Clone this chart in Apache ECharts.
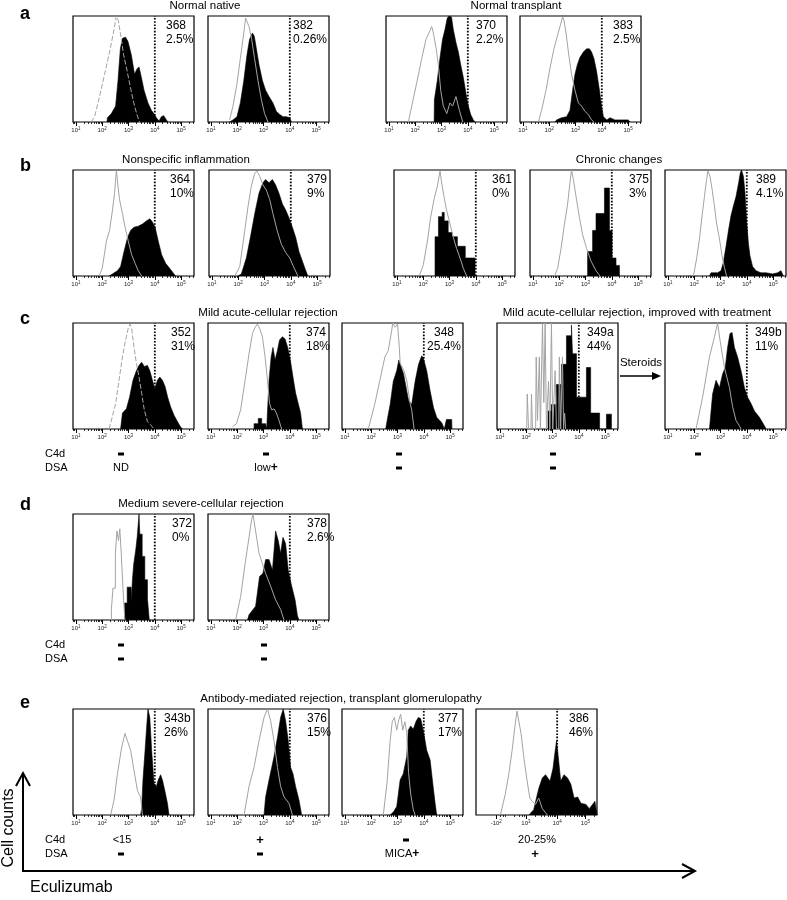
<!DOCTYPE html>
<html>
<head>
<meta charset="utf-8">
<script src="https://cdn.jsdelivr.net/npm/echarts@6/dist/echarts.min.js"></script>
<style>html,body{margin:0;padding:0;background:#fff}#chart{width:787px;height:900px}</style>
</head>
<body>
<div id="chart"></div>
<script>
// ---------------- DATA (x = log10 intensity / display units, y = % of max) ----------------
const sampleIds = ['368','382','370','383','364','379','361','375','389','352','374','348','349a','349b','372','378','343b','376','377','386'];
const positivePct = ['2.5%','0.26%','2.2%','2.5%','10%','9%','0%','3%','4.1%','31%','18%','25.4%','44%','11%','0%','2.6%','26%','15%','17%','46%'];
const gateValues = [4,4,4,4,4,4,4,4,4,4,4,4,4,4,4,4,4,4,4,4.05];
const axisKind = ['std','std','std','std','std','std','std','std','std','std','std','std','std','std','std','std','std','std','std','bi'];

const stdTickValues = [1,2,3,4,5];
const stdTickBase = ['10','10','10','10','10'];
const stdTickExp = ['1','2','3','4','5'];
const biTickValues = [2,3,4.05,5];
const biTickBase = ['-10','10','10','10'];
const biTickExp = ['2','3','4','5'];

const grayA1 = [[1.58,0],[1.71,5],[1.9,24],[2.09,45],[2.28,66],[2.44,86],[2.54,100],[2.61,96],[2.71,81],[2.81,64],[2.94,49],[3.07,33],[3.2,18],[3.32,7],[3.42,0]];
const blackA1 = [[2.18,0],[2.2,4],[2.35,8],[2.51,15],[2.6,39],[2.69,69],[2.77,79],[2.89,80],[2.98,76],[3.11,63],[3.23,45],[3.32,50],[3.4,52],[3.49,42],[3.59,30],[3.74,18],[3.87,11],[3.99,7],[4.06,4],[4.16,1],[4.25,5],[4.34,6],[4.44,2],[4.5,0]];
const grayA2 = [[1.71,2],[1.84,15],[1.99,36],[2.12,60],[2.25,84],[2.32,98],[2.37,97],[2.45,90],[2.55,78],[2.66,60],[2.79,39],[2.92,21],[3.04,8],[3.17,0]];
const blackA2 = [[1.71,0],[1.84,2],[1.99,5],[2.12,18],[2.25,39],[2.37,63],[2.47,78],[2.58,84],[2.65,81],[2.73,69],[2.83,54],[2.96,39],[3.08,30],[3.21,24],[3.36,18],[3.49,10],[3.62,7],[3.74,5],[3.87,5],[4.0,4],[4.06,0]];
const grayA3 = [[1.74,0],[1.87,15],[2.05,36],[2.25,60],[2.41,78],[2.54,85],[2.63,90],[2.69,84],[2.8,69],[2.88,54],[2.97,30],[3.07,15],[3.2,8],[3.32,18],[3.42,15],[3.55,24],[3.68,11],[3.81,0]];
const blackA3 = [[2.72,0],[2.73,21],[2.84,39],[2.94,60],[3.04,78],[3.13,87],[3.22,98],[3.29,100],[3.38,99],[3.45,87],[3.55,75],[3.64,66],[3.73,54],[3.83,42],[3.93,27],[4.02,15],[4.11,7],[4.21,2],[4.28,0]];
const grayA4 = [[1.59,0],[1.71,11],[1.88,30],[2.03,51],[2.18,69],[2.31,81],[2.41,90],[2.51,99],[2.56,96],[2.64,84],[2.73,66],[2.85,45],[2.98,30],[3.11,18],[3.23,15],[3.36,10],[3.49,7],[3.61,2],[3.7,0]];
const blackA4 = [[2.22,0],[2.28,2],[2.47,4],[2.66,5],[2.79,11],[2.89,30],[2.98,45],[3.07,54],[3.17,61],[3.3,66],[3.42,69],[3.53,69],[3.61,66],[3.7,60],[3.8,48],[3.91,30],[3.99,15],[4.06,5],[4.19,2],[4.31,4],[4.5,2],[4.76,2],[5.01,2],[5.07,0]];

const grayB1 = [[1.88,0],[2.0,7],[2.16,33],[2.28,43],[2.39,62],[2.47,78],[2.54,100],[2.6,85],[2.66,72],[2.77,59],[2.87,46],[2.99,33],[3.12,20],[3.25,12],[3.37,5],[3.5,0]];
const blackB1 = [[2.26,0],[2.39,2],[2.58,5],[2.7,9],[2.83,23],[2.96,36],[3.08,43],[3.21,46],[3.37,47],[3.53,49],[3.68,52],[3.81,54],[3.91,51],[4.01,46],[4.13,33],[4.26,20],[4.41,12],[4.57,7],[4.73,2],[4.79,0]];
const grayB2 = [[1.87,0],[2.06,9],[2.25,43],[2.37,65],[2.5,85],[2.63,97],[2.71,99],[2.82,94],[2.94,86],[3.07,81],[3.2,72],[3.32,59],[3.48,43],[3.64,30],[3.81,22],[3.96,17],[4.08,10],[4.27,0]];
const blackB2 = [[1.99,0],[2.12,2],[2.31,17],[2.46,36],[2.63,59],[2.79,78],[2.94,88],[3.04,91],[3.17,88],[3.3,91],[3.42,86],[3.55,78],[3.68,68],[3.81,62],[3.93,55],[4.06,46],[4.19,36],[4.31,23],[4.44,14],[4.57,5],[4.65,0]];
const grayB3 = [[1.85,0],[2.0,10],[2.16,33],[2.28,55],[2.41,72],[2.54,85],[2.64,99],[2.7,88],[2.79,75],[2.89,62],[3.02,49],[3.15,36],[3.27,26],[3.4,17],[3.53,7],[3.65,0]];
const blackB3 = [[2.45,0],[2.45,37],[2.58,37],[2.58,56],[2.72,56],[2.72,60],[2.8,60],[2.8,52],[2.95,52],[2.95,41],[3.1,41],[3.1,37],[3.3,37],[3.3,28],[3.6,28],[3.6,17],[3.97,17],[3.97,0]];
const grayB4 = [[1.82,0],[1.94,7],[2.07,26],[2.2,49],[2.32,68],[2.41,88],[2.47,100],[2.54,91],[2.64,75],[2.77,55],[2.89,39],[3.04,26],[3.21,14],[3.4,5],[3.55,0]];
const blackB4 = [[3.08,0],[3.08,23],[3.27,23],[3.27,43],[3.4,43],[3.4,59],[3.72,59],[3.72,83],[3.91,83],[3.91,43],[4.01,43],[4.01,17],[4.16,17],[4.16,10],[4.29,10],[4.29,0]];
const grayB5 = [[1.97,0],[2.09,16],[2.2,35],[2.3,57],[2.39,75],[2.47,91],[2.52,99],[2.6,94],[2.68,82],[2.77,66],[2.85,50],[2.96,35],[3.06,19],[3.15,8],[3.23,0]];
const blackB5 = [[2.58,0],[2.64,3],[2.89,3],[3.02,5],[3.11,13],[3.21,28],[3.31,44],[3.4,57],[3.49,66],[3.59,75],[3.69,88],[3.75,97],[3.8,100],[3.87,94],[3.93,79],[3.99,53],[4.06,31],[4.12,19],[4.22,9],[4.35,5],[4.54,3],[4.73,3],[4.98,2],[5.17,3],[5.3,5],[5.39,0]];

const grayC1 = [[2.26,0],[2.39,12],[2.51,24],[2.64,46],[2.77,68],[2.89,84],[2.99,95],[3.06,99],[3.12,95],[3.21,77],[3.3,62],[3.4,49],[3.5,34],[3.6,18],[3.72,7],[3.84,4],[3.97,0]];
const blackC1 = [[2.7,0],[2.77,15],[2.92,19],[3.04,30],[3.17,46],[3.3,55],[3.4,60],[3.5,63],[3.6,59],[3.72,60],[3.81,55],[3.91,46],[4.0,38],[4.1,46],[4.19,49],[4.29,46],[4.39,40],[4.49,30],[4.6,21],[4.73,13],[4.86,7],[4.98,2],[5.05,0]];
const grayC2 = [[1.82,2],[1.97,5],[2.13,18],[2.3,46],[2.45,71],[2.58,90],[2.68,96],[2.77,99],[2.85,95],[2.96,87],[3.06,68],[3.15,46],[3.23,24],[3.31,18],[3.4,19],[3.49,15],[3.59,8],[3.69,0]];
const blackC2 = [[2.64,0],[2.64,5],[2.8,5],[2.8,10],[2.93,10],[2.93,5],[3.08,5],[3.12,0],[3.16,0],[3.21,46],[3.29,68],[3.36,77],[3.44,65],[3.53,74],[3.61,84],[3.72,87],[3.82,85],[3.92,77],[4.02,65],[4.12,49],[4.22,34],[4.32,24],[4.41,15],[4.48,0]];
const grayC3 = [[1.89,0],[2.14,24],[2.33,46],[2.52,68],[2.65,74],[2.78,93],[2.82,100],[2.91,96],[3.0,99],[3.07,77],[3.1,62],[3.23,56],[3.35,46],[3.48,24],[3.54,18],[3.63,0]];
const blackC3 = [[2.55,0],[2.62,10],[2.72,23],[2.84,45],[2.97,55],[3.05,65],[3.12,60],[3.23,52],[3.42,27],[3.54,23],[3.67,45],[3.8,61],[3.92,69],[3.98,67],[4.11,55],[4.24,36],[4.37,20],[4.49,11],[4.68,6],[4.78,0],[4.85,0],[4.86,9],[5.06,9],[5.07,0]];
const grayC4 = [[2.02,0],[2.04,33],[2.07,33],[2.09,0],[2.18,0],[2.2,33],[2.22,33],[2.24,0],[2.36,0],[2.38,68],[2.41,68],[2.43,8],[2.48,8],[2.5,68],[2.52,68],[2.54,0],[2.6,0],[2.62,100],[2.65,100],[2.67,25],[2.7,25],[2.72,100],[2.75,100],[2.77,0],[2.83,0],[2.85,45],[2.88,45],[2.9,0],[2.94,0],[2.96,100],[2.99,100],[3.01,0],[3.08,0],[3.1,55],[3.13,55],[3.15,0],[3.24,0],[3.26,68],[3.29,68],[3.31,0],[3.36,0],[3.38,68],[3.4,68],[3.42,0],[3.44,0],[3.46,15],[3.48,15],[3.5,0]];
const blackC4 = [[2.83,0],[2.83,17],[2.95,17],[2.95,23],[3.15,23],[3.15,42],[3.34,42],[3.34,61],[3.53,61],[3.53,88],[3.72,88],[3.72,98],[3.76,98],[3.76,71],[3.91,71],[3.91,30],[4.29,30],[4.29,58],[4.45,58],[4.45,15],[4.79,15],[4.79,0],[5.05,0],[5.05,14],[5.24,14],[5.24,0]];
const grayC5 = [[2.07,0],[2.32,30],[2.58,68],[2.77,87],[2.89,100],[2.98,84],[3.15,58],[3.34,39],[3.46,21],[3.59,8],[3.72,3],[3.78,0]];
const blackC5 = [[2.58,0],[2.7,33],[2.83,46],[2.96,39],[3.08,52],[3.18,58],[3.27,77],[3.36,90],[3.44,91],[3.53,77],[3.65,68],[3.78,55],[3.91,39],[4.03,30],[4.16,24],[4.29,17],[4.48,11],[4.67,3],[4.73,0]];

const grayD1 = [[2.35,0],[2.35,10],[2.41,10],[2.41,30],[2.5,30],[2.5,62],[2.56,62],[2.56,84],[2.62,84],[2.62,75],[2.67,75],[2.67,86],[2.73,86],[2.73,60],[2.79,60],[2.79,30],[2.86,30],[2.86,0]];
const blackD1 = [[2.85,0],[2.85,16],[2.95,16],[2.95,31],[3.1,31],[3.1,16],[3.15,16],[3.15,38],[3.2,38],[3.2,53],[3.27,53],[3.27,65],[3.33,65],[3.33,78],[3.4,78],[3.4,100],[3.43,100],[3.43,81],[3.52,81],[3.52,60],[3.62,60],[3.62,38],[3.72,38],[3.72,20],[3.79,20],[3.79,0]];
const grayD2 = [[1.94,0],[2.13,22],[2.3,53],[2.45,78],[2.55,95],[2.6,100],[2.7,84],[2.83,63],[2.96,53],[3.08,44],[3.27,32],[3.46,19],[3.65,10],[3.78,0]];
const blackD2 = [[2.39,0],[2.45,5],[2.7,13],[2.85,41],[2.98,44],[3.08,57],[3.21,57],[3.34,47],[3.46,84],[3.56,75],[3.65,63],[3.74,78],[3.84,72],[3.94,47],[4.07,32],[4.2,19],[4.29,4],[4.35,0]];

const grayE1 = [[2.32,0],[2.45,14],[2.58,39],[2.74,64],[2.87,77],[2.96,70],[3.08,61],[3.21,42],[3.34,23],[3.46,17],[3.53,0]];
const blackE1 = [[3.46,0],[3.5,6],[3.55,33],[3.63,61],[3.69,83],[3.74,100],[3.81,92],[3.88,61],[3.97,30],[4.06,27],[4.13,33],[4.22,38],[4.29,33],[4.38,23],[4.48,11],[4.54,0]];
const grayE2 = [[2.26,0],[2.45,27],[2.64,45],[2.83,70],[3.02,92],[3.15,100],[3.27,89],[3.4,70],[3.53,45],[3.65,27],[3.78,17],[3.97,11],[4.1,0]];
const blackE2 = [[3.02,0],[3.08,17],[3.21,33],[3.4,55],[3.53,73],[3.65,92],[3.75,100],[3.84,89],[3.94,70],[4.03,45],[4.12,39],[4.22,27],[4.35,14],[4.45,0]];
const grayE3 = [[2.46,0],[2.6,30],[2.72,70],[2.8,88],[2.88,92],[2.97,80],[3.05,90],[3.12,95],[3.2,80],[3.28,88],[3.35,78],[3.42,40],[3.5,20],[3.6,5],[3.67,0]];
const blackE3 = [[2.72,0],[2.85,3],[2.97,8],[3.1,33],[3.22,39],[3.35,55],[3.41,80],[3.5,84],[3.6,81],[3.7,88],[3.79,92],[3.88,91],[3.98,80],[4.11,61],[4.24,52],[4.34,30],[4.43,11],[4.49,0]];
const grayE4 = [[2.14,0],[2.3,19],[2.42,38],[2.53,60],[2.64,86],[2.7,98],[2.76,97],[2.84,76],[2.93,54],[3.04,32],[3.13,16],[3.21,13],[3.32,10],[3.43,16],[3.55,6],[3.72,0]];
const blackE4 = [[3.1,0],[3.26,5],[3.43,25],[3.55,35],[3.66,38],[3.81,32],[3.91,44],[3.98,60],[4.03,70],[4.09,54],[4.17,32],[4.28,38],[4.4,35],[4.51,29],[4.62,16],[4.74,17],[4.85,11],[5.02,10],[5.13,6],[5.24,10],[5.32,13],[5.39,0]];

const blackSeries = [blackA1,blackA2,blackA3,blackA4,blackB1,blackB2,blackB3,blackB4,blackB5,blackC1,blackC2,blackC3,blackC4,blackC5,blackD1,blackD2,blackE1,blackE2,blackE3,blackE4];
const graySeries = [grayA1,grayA2,grayA3,grayA4,grayB1,grayB2,grayB3,grayB4,grayB5,grayC1,grayC2,grayC3,grayC4,grayC5,grayD1,grayD2,grayE1,grayE2,grayE3,grayE4];

const groupTitles = ['Normal native','Normal transplant','Nonspecific inflammation','Chronic changes','Mild acute-cellular rejection','Mild acute-cellular rejection, improved with treatment','Medium severe-cellular rejection','Antibody-mediated rejection, transplant glomerulopathy'];
const rowLetters = ['a','b','c','d','e'];
const c4dRowC = ['-','-','-','-','-'];
const dsaRowC = ['ND','low+','-','-',''];
const c4dRowD = ['-','-'];
const dsaRowD = ['-','-'];
const c4dRowE = ['<15','+','-','20-25%'];
const dsaRowE = ['-','-','MICA+','+'];

// ---------------- LAYOUT / STYLE (positions only) ----------------
const FONT = "'Liberation Sans', Arial, Helvetica, sans-serif";
const PW = 121, PH = 106;
const STD_RANGE = [0.89, 5.49];
const BI_RANGE = [1.32, 5.39];
// [left, top, labelX, labelAlign]
const panelLayout = [
  [73,16,166,'left'],[208,16,293,'left'],[386,16,476,'left'],[520,16,613,'left'],
  [73,170,170,'left'],[209,170,307,'left'],[394,170,492,'left'],[530,170,629,'left'],[665,170,756,'left'],
  [73,323,171,'left'],[208,323,306,'left'],[342,323,444,'center'],[497,323,587,'left'],[665,323,755,'left'],
  [73,514,172,'left'],[208,514,307,'left'],
  [73,709,164,'left'],[208,709,307,'left'],[342,709,438,'left'],[476,709,569,'left']
];
const grayDashed = [true,false,false,false,false,false,false,false,false,true,false,false,false,false,false,false,false,false,false,false];
const titlePos = [[205,6],[516,6],[186,160],[619,160],[268,313],[637,313],[201,504],[341,699]];
const letterPos = [[20,14],[20,166],[20,319],[20,505],[20,703]];
const rowAnnot = [
  {y:[454,468], c4d:c4dRowC, dsa:dsaRowC, xc:[121,266,399,553,698], xd:[121,266,399,553,698]},
  {y:[645,659], c4d:c4dRowD, dsa:dsaRowD, xc:[121,264], xd:[121,264]},
  {y:[840,854], c4d:c4dRowE, dsa:dsaRowE, xc:[122,260,406,537], xd:[121,260,402,535]}
];

// minor tick positions (log decades)
const stdMinor = [];
for (let n = 0; n <= 5; n++) for (let k = 2; k <= 9; k++) { const v = n + Math.log10(k); if (v > STD_RANGE[0] && v < STD_RANGE[1]) stdMinor.push(v); }
const biMinor = [2.12,2.22,2.32,2.62,2.76,2.86,2.93];
for (let k = 2; k <= 9; k++) { biMinor.push(3 + 1.05*Math.log10(k)); biMinor.push(4.05 + 0.95*Math.log10(k)); }
for (let k = 2; k <= 3; k++) { biMinor.push(5 + Math.log10(k)); }

const grids = [], xAxes = [], yAxes = [], series = [], graphics = [];

function textEl(x, y, text, size, opts) {
  opts = opts || {};
  return {type:'text', x:x, y:y, rotation: opts.rotation || 0, z: 100,
    style:{text:text, fill:'#000', fontSize:size, fontFamily:FONT, fontWeight: opts.bold ? 'bold' : 'normal',
      textAlign: opts.align || 'left', textVerticalAlign:'middle', align: opts.align || 'left', verticalAlign:'middle', rich: opts.rich}};
}

panelLayout.forEach((p, i) => {
  const [left, top, labX, labAlign] = p;
  grids.push({left:left, top:top, width:PW, height:PH, show:true, borderColor:'#000', borderWidth:1.2, backgroundColor:'#fff'});
  const bi = axisKind[i] === 'bi';
  const range = bi ? BI_RANGE : STD_RANGE;
  const ticks = bi ? biTickValues : stdTickValues;
  const bases = bi ? biTickBase : stdTickBase;
  const exps = bi ? biTickExp : stdTickExp;
  const xi = xAxes.length;
  xAxes.push({gridIndex:i, type:'value', min:range[0], max:range[1], position:'bottom',
    axisLine:{show:false}, splitLine:{show:false},
    axisTick:{show:true, length:4, customValues:ticks, lineStyle:{color:'#000', width:1}},
    axisLabel:{show:true, customValues:ticks, margin:4, color:'#222',
      formatter:function(v){ let idx = 0, best = 1e9; ticks.forEach((t,j)=>{ if (Math.abs(t-v) < best){best=Math.abs(t-v); idx=j;} }); return '{m|' + bases[idx] + '}{s|' + exps[idx] + '}'; },
      rich:{m:{fontSize:6, fontFamily:FONT, color:'#222', lineHeight:8}, s:{fontSize:4.5, fontFamily:FONT, color:'#222', verticalAlign:'top', lineHeight:8}}}
  });
  xAxes.push({gridIndex:i, type:'value', min:range[0], max:range[1], position:'bottom',
    axisLine:{show:false}, splitLine:{show:false},
    axisTick:{show:true, length:2, customValues: bi ? biMinor : stdMinor, lineStyle:{color:'#000', width:0.8}},
    axisLabel:{show:false}});
  yAxes.push({gridIndex:i, type:'value', min:0, max:100, show:false});

  series.push({type:'line', xAxisIndex:xi, yAxisIndex:i, data:[[gateValues[i],0],[gateValues[i],100]], symbol:'none', silent:true,
    lineStyle:{color:'#000', width:1.8, type:[1.6,1.6]}, z:1, animation:false});
  series.push({type:'line', xAxisIndex:xi, yAxisIndex:i, data:blackSeries[i], symbol:'none', silent:true,
    lineStyle:{color:'#000', width:0.6}, areaStyle:{color:'#000', opacity:1}, z:2, animation:false});
  series.push({type:'line', xAxisIndex:xi, yAxisIndex:i, data:graySeries[i], symbol:'none', silent:true,
    lineStyle:{color:'#a3a3a3', width:1, type: grayDashed[i] ? [5,2] : 'solid'}, z:3, animation:false});

  graphics.push(textEl(labX, top + 10, sampleIds[i], 12, {align:labAlign}));
  graphics.push(textEl(labX, top + 24, positivePct[i], 12, {align:labAlign}));
});

groupTitles.forEach((t, i) => graphics.push(textEl(titlePos[i][0], titlePos[i][1], t, 11.5, {align:'center'})));
rowLetters.forEach((t, i) => graphics.push(textEl(letterPos[i][0], letterPos[i][1], t, 18, {bold:true})));

const plusRich = {p:{fontWeight:'bold', fontSize:12, fontFamily:FONT, fill:'#000'}};
function annot(val, x, y) {
  if (!val) return;
  if (val === '-') { graphics.push({type:'rect', z:100, shape:{x:x-3, y:y-1.5, width:6, height:3}, style:{fill:'#000'}}); return; }
  if (val === '+') { graphics.push(textEl(x, y, '+', 13, {align:'center', bold:true})); return; }
  if (val.endsWith('+')) { graphics.push(textEl(x, y, val.slice(0,-1) + '{p|+}', 11, {align:'center', rich:plusRich})); return; }
  graphics.push(textEl(x, y, val, 11, {align:'center'}));
}
rowAnnot.forEach(r => {
  graphics.push(textEl(45, r.y[0], 'C4d', 11));
  graphics.push(textEl(45, r.y[1], 'DSA', 11));
  r.c4d.forEach((v, j) => annot(v, r.xc[j], r.y[0]));
  r.dsa.forEach((v, j) => annot(v, r.xd[j], r.y[1]));
});

// Steroids arrow
graphics.push(textEl(641, 363, 'Steroids', 11.5, {align:'center'}));
graphics.push({type:'line', z:100, shape:{x1:620, y1:376, x2:654, y2:376}, style:{stroke:'#000', lineWidth:1.5}});
graphics.push({type:'polygon', z:100, shape:{points:[[652,372],[661,376],[652,380]]}, style:{fill:'#000'}});

// Big axes arrows
graphics.push({type:'polyline', z:100, shape:{points:[[23,773],[23,871],[695,871]]}, style:{stroke:'#000', lineWidth:2, fill:null}});
graphics.push({type:'polyline', z:100, shape:{points:[[16,786],[23,773],[30,786]]}, style:{stroke:'#000', lineWidth:2, fill:null}});
graphics.push({type:'polyline', z:100, shape:{points:[[682,864],[695,871],[682,878]]}, style:{stroke:'#000', lineWidth:2, fill:null}});
graphics.push(textEl(9, 828, 'Cell counts', 16, {align:'center', rotation:Math.PI/2}));
graphics.push(textEl(30, 888, 'Eculizumab', 16));

const chart = echarts.init(document.getElementById('chart'), null, {renderer:'canvas', width:787, height:900});
chart.setOption({
  backgroundColor:'#fff',
  animation:false,
  grid:grids, xAxis:xAxes, yAxis:yAxes, series:series,
  graphic:{elements:graphics}
});
</script>
</body>
</html>
